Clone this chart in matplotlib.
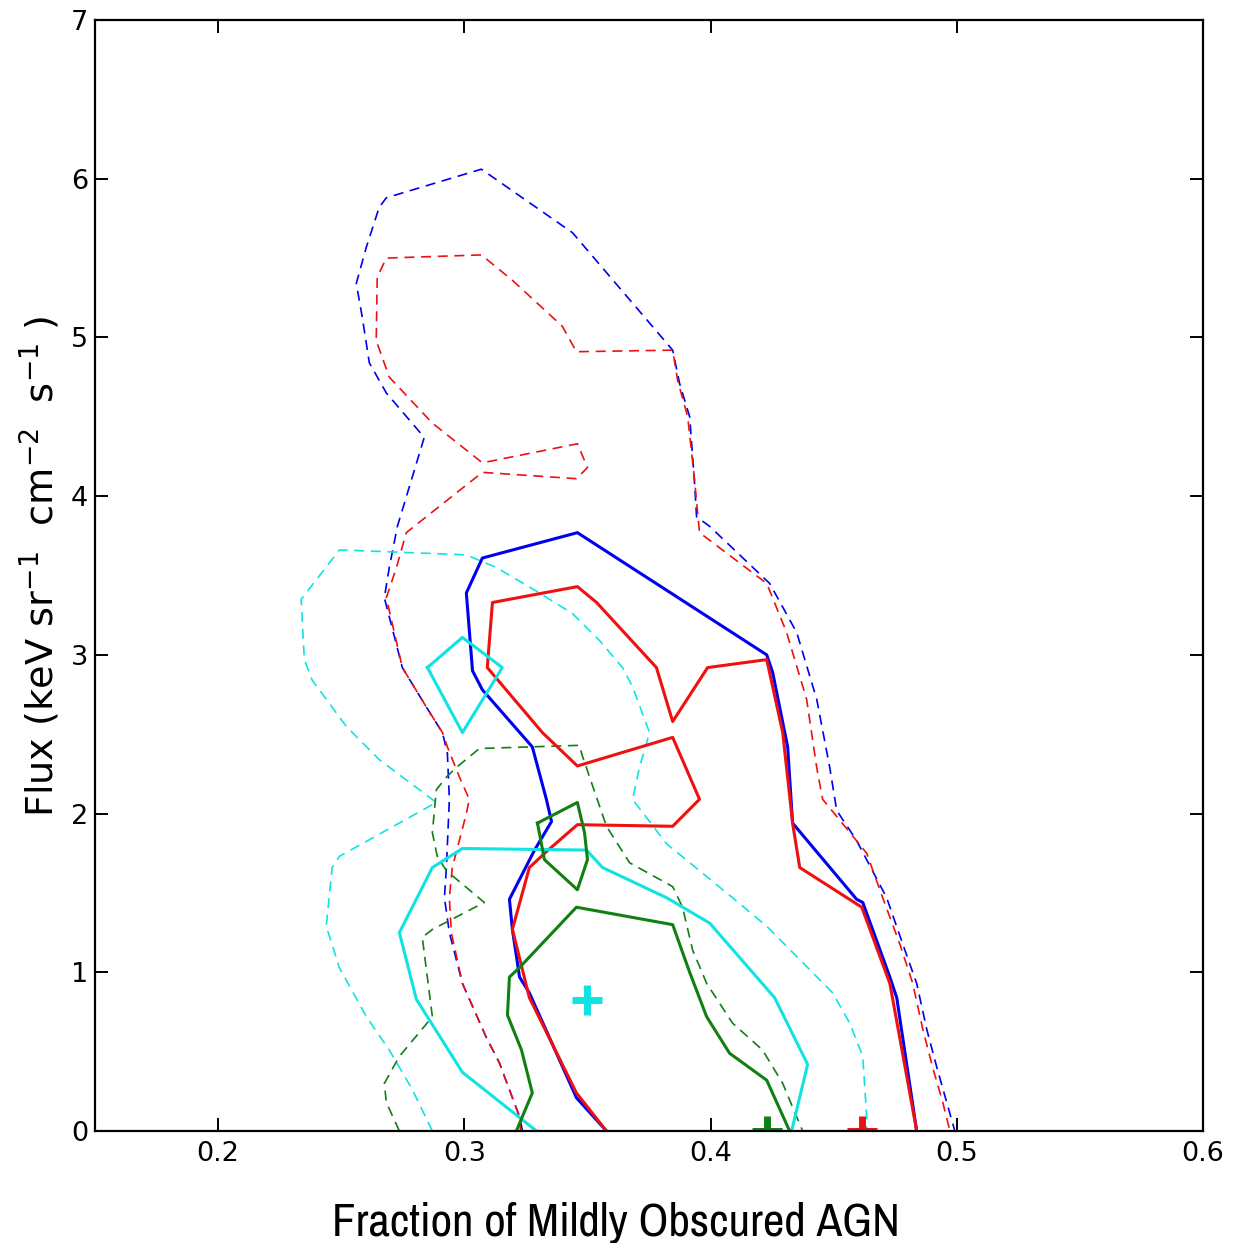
import numpy as np
import matplotlib
matplotlib.use('Agg')
import matplotlib.pyplot as plt
from matplotlib import font_manager

# contour outlines (x = fraction, y = flux)
# dashed = outer contours, solid = inner contours
blue_dash_x = [0.3236, 0.3224, 0.3195, 0.3142, 0.3089, 0.2992, 0.2939, 0.2919, 0.2927, 0.2939, 0.2931, 0.2911,
               0.2846, 0.2748, 0.2675, 0.2695, 0.2728, 0.2837, 0.2683, 0.2614, 0.2585, 0.2561, 0.2602, 0.2654,
               0.2683, 0.3069, 0.3439, 0.3846, 0.3874, 0.3915, 0.3935, 0.3943, 0.3996, 0.4240, 0.4350, 0.4431,
               0.4484, 0.4512, 0.4593, 0.4715, 0.4780, 0.4837, 0.4878, 0.4919, 0.4959, 0.4992]
blue_dash_y = [0.0, 0.09, 0.21, 0.43, 0.59, 0.93, 1.25, 1.47, 1.66, 2.09, 2.38, 2.51,
               2.67, 2.92, 3.36, 3.55, 3.81, 4.37, 4.65, 4.84, 5.13, 5.34, 5.57, 5.82,
               5.88, 6.06, 5.66, 4.92, 4.71, 4.50, 4.08, 3.87, 3.81, 3.45, 3.14, 2.72,
               2.29, 2.02, 1.83, 1.47, 1.18, 0.93, 0.64, 0.40, 0.18, 0.0]

red_dash_x = [0.3228, 0.3224, 0.3195, 0.3142, 0.3089, 0.2992, 0.2947, 0.2939, 0.2951, 0.3008, 0.3020, 0.2980,
              0.2931, 0.2911, 0.2846, 0.2748, 0.2683, 0.2724, 0.2764, 0.3073, 0.3455, 0.3500, 0.3459, 0.3073,
              0.2870, 0.2695, 0.2642, 0.2646, 0.2683, 0.3069, 0.3195, 0.3398, 0.3455, 0.3846, 0.3866, 0.3907,
              0.3935, 0.3955, 0.4228, 0.4309, 0.4390, 0.4431, 0.4455, 0.4524, 0.4634, 0.4699, 0.4768, 0.4821,
              0.4862, 0.4902, 0.4943, 0.4972]
red_dash_y = [0.0, 0.09, 0.21, 0.43, 0.59, 0.93, 1.25, 1.47, 1.66, 2.00, 2.09, 2.23,
              2.42, 2.51, 2.67, 2.92, 3.36, 3.55, 3.77, 4.15, 4.11, 4.18, 4.33, 4.21,
              4.46, 4.75, 4.98, 5.38, 5.50, 5.52, 5.36, 5.07, 4.91, 4.92, 4.73, 4.50,
              4.10, 3.77, 3.45, 3.14, 2.72, 2.29, 2.09, 1.96, 1.75, 1.47, 1.18, 0.93,
              0.64, 0.40, 0.18, 0.0]

cyan_dash_x = [0.2870, 0.2789, 0.2695, 0.2602, 0.2492, 0.2439, 0.2463, 0.2492, 0.2886, 0.2654, 0.2520, 0.2382,
               0.2350, 0.2337, 0.2492, 0.2520, 0.3008, 0.3130, 0.3305, 0.3439, 0.3549, 0.3642, 0.3683, 0.3752,
               0.3711, 0.3683, 0.3821, 0.3955, 0.4089, 0.4228, 0.4362, 0.4496, 0.4565, 0.4618, 0.4634, 0.4634]
cyan_dash_y = [0.0, 0.26, 0.51, 0.72, 1.03, 1.29, 1.66, 1.73, 2.07, 2.34, 2.55, 2.84,
               2.97, 3.35, 3.66, 3.66, 3.63, 3.55, 3.39, 3.26, 3.09, 2.92, 2.80, 2.51,
               2.29, 2.09, 1.81, 1.64, 1.47, 1.29, 1.08, 0.87, 0.68, 0.47, 0.09, 0.0]

green_dash_x = [0.2736, 0.2683, 0.2675, 0.2736, 0.2870, 0.2829, 0.2870, 0.3081, 0.2927, 0.2890, 0.2870, 0.2886,
                0.2927, 0.2967, 0.3061, 0.3467, 0.3480, 0.3577, 0.3671, 0.3846, 0.3886, 0.3927, 0.3984, 0.4089,
                0.4211, 0.4293, 0.4333, 0.4374]
green_dash_y = [0.0, 0.18, 0.30, 0.47, 0.72, 1.22, 1.27, 1.44, 1.64, 1.73, 1.88, 2.15,
                2.23, 2.29, 2.41, 2.43, 2.36, 1.92, 1.69, 1.54, 1.41, 1.14, 0.93, 0.68,
                0.51, 0.30, 0.15, 0.0]

blue_x = [0.3577, 0.3455, 0.3264, 0.3224, 0.3195, 0.3183, 0.3285, 0.3354, 0.3333, 0.3276, 0.3073, 0.3033,
          0.3008, 0.3073, 0.3459, 0.4228, 0.4252, 0.4313, 0.4333, 0.4593, 0.4618, 0.4728, 0.4756, 0.4837]
blue_y = [0.0, 0.21, 0.87, 0.97, 1.27, 1.46, 1.77, 1.95, 2.09, 2.42, 2.78, 2.90,
          3.39, 3.61, 3.77, 3.00, 2.89, 2.42, 1.94, 1.46, 1.44, 0.97, 0.84, 0.0]

red_x = [0.3577, 0.3455, 0.3264, 0.3195, 0.3264, 0.3333, 0.3459, 0.3846, 0.3955, 0.3846, 0.3459, 0.3317,
         0.3093, 0.3114, 0.3459, 0.3537, 0.3780, 0.3846, 0.3988, 0.4228, 0.4293, 0.4333, 0.4362, 0.4614,
         0.4728, 0.4837]
red_y = [0.0, 0.24, 0.84, 1.27, 1.66, 1.76, 1.93, 1.92, 2.09, 2.48, 2.30, 2.51,
         2.92, 3.33, 3.43, 3.33, 2.92, 2.58, 2.92, 2.97, 2.51, 1.94, 1.66, 1.41,
         0.93, 0.0]

cyan_x = [0.3293, 0.2992, 0.2805, 0.2736, 0.2870, 0.2992, 0.3496, 0.3561, 0.3821, 0.3996, 0.4260, 0.4394, 0.4329]
cyan_y = [0.0, 0.37, 0.83, 1.25, 1.66, 1.78, 1.77, 1.66, 1.47, 1.31, 0.84, 0.42, 0.0]
cyan_island_x = [0.2850, 0.2992, 0.3154, 0.2992, 0.2850]
cyan_island_y = [2.92, 3.11, 2.92, 2.51, 2.92]

green_x = [0.3211, 0.3276, 0.3232, 0.3175, 0.3183, 0.3224, 0.3455, 0.3846, 0.3915, 0.3984, 0.4077, 0.4228, 0.4321]
green_y = [0.0, 0.24, 0.51, 0.73, 0.97, 1.03, 1.41, 1.30, 1.00, 0.72, 0.49, 0.32, 0.0]
green_island_x = [0.3297, 0.3459, 0.3488, 0.3500, 0.3459, 0.3325, 0.3297]
green_island_y = [1.94, 2.07, 1.88, 1.71, 1.52, 1.71, 1.94]

# best-fit points
best_x = [0.3496, 0.4228, 0.4614]
best_y = [0.825, 0.0, 0.0]

blue = '#0000ee'
red = '#ee1111'
cyan = '#11e3e3'
green = '#117f11'
best_c = [cyan, green, red]

fig = plt.figure(figsize=(12.49, 12.43), dpi=100)
ax = fig.add_axes([0.0761, 0.0901, 0.8871, 0.8938])

dash = dict(lw=1.2, dashes=[6, 4])
ax.plot(blue_dash_x, blue_dash_y, color=blue, **dash)
ax.plot(red_dash_x, red_dash_y, color=red, **dash)
ax.plot(cyan_dash_x, cyan_dash_y, color=cyan, **dash)
ax.plot(green_dash_x, green_dash_y, color=green, **dash)

ax.plot(blue_x, blue_y, color=blue, lw=2.2)
ax.plot(red_x, red_y, color=red, lw=2.2)
ax.plot(cyan_x, cyan_y, color=cyan, lw=2.2)
ax.plot(cyan_island_x, cyan_island_y, color=cyan, lw=2.2)
ax.plot(green_x, green_y, color=green, lw=2.2)
ax.plot(green_island_x, green_island_y, color=green, lw=2.2)

for bx, by, c in zip(best_x, best_y, best_c):
    ax.plot(bx, by, marker='+', color=c, ms=21, mew=5, ls='none')

ax.set_xlim(0.15, 0.6)
ax.set_ylim(0, 7)
ax.set_xticks([0.2, 0.3, 0.4, 0.5, 0.6])
ax.set_xticklabels(['0.2', '0.3', '0.4', '0.5', '0.6'])
ax.set_yticks(range(0, 8))
ax.tick_params(direction='in', length=9.5, width=1.4, top=True, right=True, labelsize=19.5)
ax.tick_params(axis='x', pad=7)
ax.tick_params(axis='y', pad=5)
for s in ax.spines.values():
    s.set_linewidth(1.6)

fig.text(40 / 1249, 1 - 566 / 1243, r'Flux (keV sr$^{-1}$  cm$^{-2}$  s$^{-1}$ )',
         rotation=90, ha='center', va='center', fontsize=27.5)

# narrow font for the x label, sized so it spans the same width as the original
have = set(f.name for f in font_manager.fontManager.ttflist)
narrow = ['Liberation Sans Narrow', 'Arimo Narrow', 'Archivo Narrow', 'PT Sans Narrow', 'Roboto Condensed',
          'Pragati Narrow', 'Fira Sans Condensed', 'IBM Plex Sans Condensed', 'Encode Sans Condensed',
          'Asap Condensed', 'Sofia Sans Condensed', 'Liberation Sans']
fam = [f for f in narrow if f in have][:1] + ['DejaVu Sans']
xl = fig.text(616 / 1249, 1 - 1236 / 1243, 'Fraction of Mildly Obscured AGN', ha='center', va='baseline',
              fontsize=32, family=fam)
r = fig.canvas.get_renderer()
w = xl.get_window_extent(r).width
xl.set_fontsize(min(40, 32 * 567 / w))

fig.savefig('out.png', dpi=100)
